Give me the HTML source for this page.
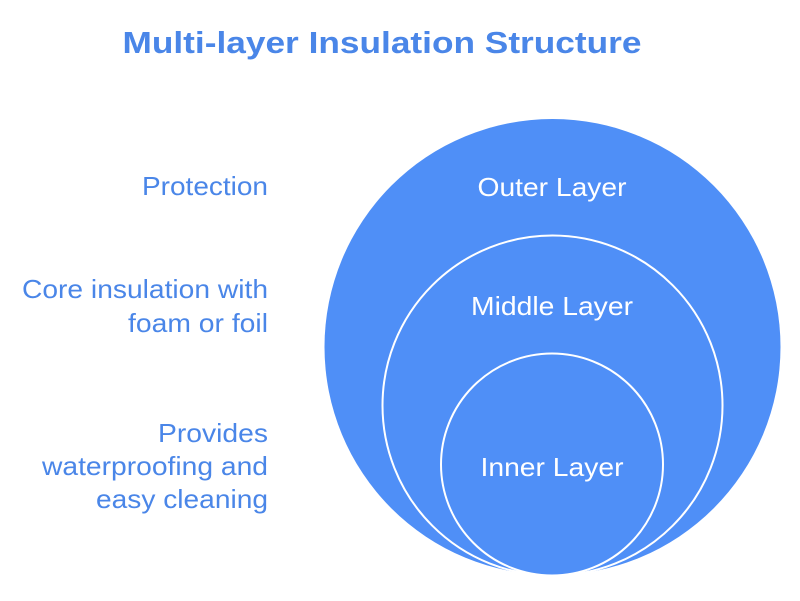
<!DOCTYPE html>
<html><head><meta charset="utf-8"><style>
html,body{margin:0;padding:0;background:#fff;}
svg text{font-family:"Liberation Sans",sans-serif;}
</style></head><body>
<svg width="800" height="596" viewBox="0 0 800 596" xmlns="http://www.w3.org/2000/svg">
<text x="382" y="53" text-anchor="middle" font-size="31" font-weight="bold" fill="#4a86e8" textLength="519" lengthAdjust="spacingAndGlyphs">Multi-layer Insulation Structure</text>
<circle cx="552.5" cy="347" r="228" fill="#4f8ff7"/>
<circle cx="552.5" cy="405.5" r="170" fill="#4f8ff7" stroke="#fff" stroke-width="2"/>
<circle cx="552" cy="464.5" r="111" fill="#4f8ff7" stroke="#fff" stroke-width="2"/>
<g fill="#fff" font-size="26" text-anchor="middle">
<text x="552" y="196" textLength="149" lengthAdjust="spacingAndGlyphs">Outer Layer</text>
<text x="552" y="315" textLength="162" lengthAdjust="spacingAndGlyphs">Middle Layer</text>
<text x="552" y="476" textLength="143" lengthAdjust="spacingAndGlyphs">Inner Layer</text>
</g>
<g fill="#4a86e8" font-size="26" text-anchor="end">
<text x="268" y="195" textLength="126" lengthAdjust="spacingAndGlyphs">Protection</text>
<text x="268" y="298" textLength="246" lengthAdjust="spacingAndGlyphs">Core insulation with</text>
<text x="268" y="332" textLength="140" lengthAdjust="spacingAndGlyphs">foam or foil</text>
<text x="268" y="442" textLength="110" lengthAdjust="spacingAndGlyphs">Provides</text>
<text x="268" y="475" textLength="226" lengthAdjust="spacingAndGlyphs">waterproofing and</text>
<text x="268" y="508" textLength="172" lengthAdjust="spacingAndGlyphs">easy cleaning</text>
</g>
</svg>
</body></html>
